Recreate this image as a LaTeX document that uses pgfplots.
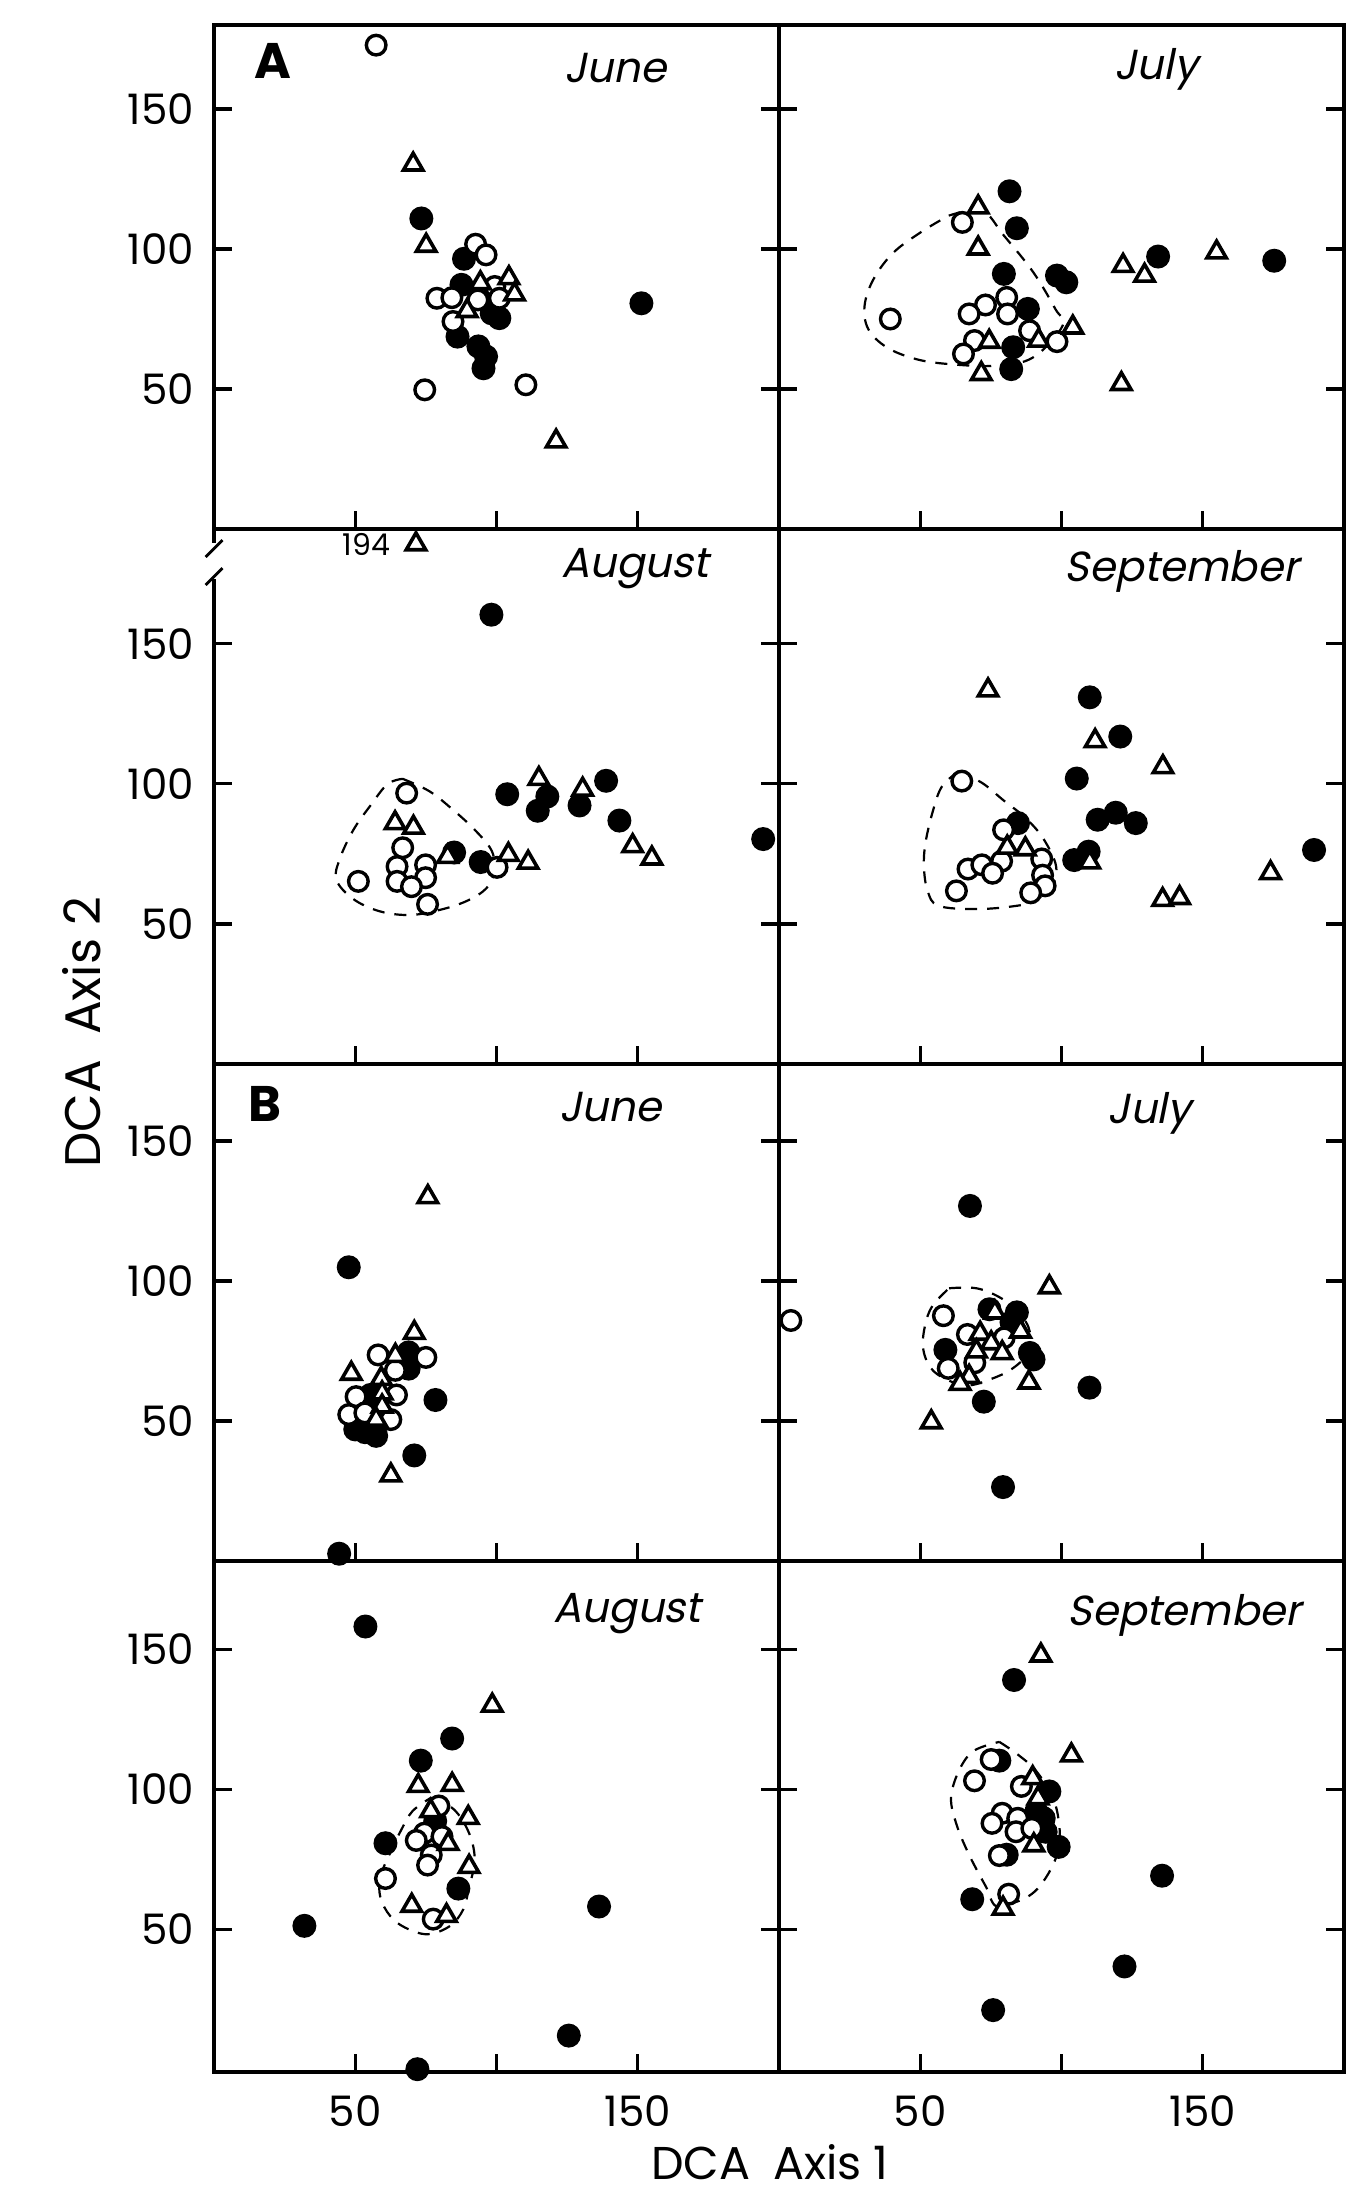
\documentclass[border=0pt]{standalone}
\usepackage{fontspec}
\setmainfont{Poppins}
\newfontfamily\slantfont[FakeSlant=0.2]{Poppins}
\usepackage{pgfplots}
\pgfplotsset{compat=1.18}
\newcommand\monthfont{\slantfont\fontsize{10.5}{12}\selectfont}
\newcommand\tickfont{\fontsize{10.5}{12}\selectfont}
\pgfplotsset{
  panel/.style={
    scale only axis, width=141.25pt, xmin=0, xmax=200,
    anchor=south west,
    axis line style={line width=0.8pt},
    xtick={50,100,150}, ytick={50,100,150},
    tick align=inside, major tick length=4.5pt,
    every tick/.style={black, line width=0.8pt},
    xtick pos=left,
    xticklabels={}, yticklabels={},
    clip=false,
    tick label style={font=\tickfont},
    yticklabel style={xshift=-1.5pt},
    xticklabel style={yshift=-2.5pt},
  },
  fc/.style={only marks, mark=*, mark size=2.8pt, mark options={fill=black, draw=black, line width=0.4pt}},
  oc/.style={only marks, mark=*, mark size=2.45pt, mark options={fill=white, draw=black, line width=0.85pt}},
  tr/.style={only marks, mark=triangle*, mark size=2.8pt, mark options={fill=white, draw=black, line width=0.9pt}},
  dl/.style={smooth, tension=0.6, no marks, black, line width=0.55pt, dash pattern=on 3pt off 2.5pt},
}
\begin{document}
\begin{tikzpicture}
\useasboundingbox (-53.5pt,-30.75pt) rectangle (283.5pt,518pt);

% ---------------- Row 1: A June ----------------
\begin{axis}[panel, at={(0pt,385.75pt)}, height=126pt, ymin=0, ymax=180, yticklabels={50,100,150}]
\addplot[fc] coordinates {(73.4,110.9) (88.5,96.5) (87.6,87.2) (98.3,77) (101,75.3) (86.2,68.7) (93.6,65.2) (96.3,61.6) (95.4,57.4) (151.3,80.6)};
\addplot[oc] coordinates {(57.4,172.8) (92.6,101.7) (96.3,97.9) (99.4,86.6) (78.9,82.4) (84.2,82.6) (93.4,81.8) (101,82.4) (84.6,74.1) (74.6,49.7) (110.4,51.5)};
\addplot[tr] coordinates {(70.5,130.2) (75.1,101.2) (104.4,89.6) (94.3,87.8) (106.4,83.8) (89.6,77.9) (121.1,31.3)};
\node[font=\bfseries\fontsize{12.5}{14}\selectfont] at (axis cs:21,167) {A};
\node[font=\monthfont] at (axis cs:142,164.5) {June};
\end{axis}

% ---------------- Row 1: A July ----------------
\begin{axis}[panel, at={(141.25pt,385.75pt)}, height=126pt, ymin=0, ymax=180]
\addplot[dl] coordinates {(60.1,111.9) (71.8,113.7) (79.6,104.8) (90,91.7) (97.8,78.6) (100.4,72.6) (90,61.3) (77,58.3) (60.1,58.9) (48.4,60.7) (38.1,64.9) (31.6,71.4) (30.3,79.8) (33.5,89.3) (40.6,98.8) (51,106.5) (60.1,111.9)};
\addplot[fc] coordinates {(81.6,120.6) (84.2,107.4) (134.2,97.3) (175.3,95.8) (79.6,91.1) (98.4,90.5) (101.7,88.1) (88.1,78.6) (82.9,64.9) (82.2,57.1)};
\addplot[oc] coordinates {(64.9,109.5) (80.6,82.7) (73.1,80.0) (67.3,76.8) (80.9,76.8) (39.4,75.0) (88.7,70.8) (98.4,66.9) (69.2,67.3) (65.3,62.5)};
\addplot[tr] coordinates {(70.5,114.9) (70.5,100.2) (154.9,98.8) (121.8,94.0) (129.4,90.5) (104,72) (91.9,67.3) (74.4,66.9) (71.6,55.4) (121.2,51.8)};
\node[font=\monthfont] at (axis cs:133.5,164.3) {July};
\end{axis}

% ---------------- Row 2: A August ----------------
\begin{axis}[panel, at={(0pt,252pt)}, height=133.75pt, ymin=0, ymax=191, yticklabels={50,100,150}]
\addplot[dl] coordinates {(66.8,101.8) (76.2,97.4) (84.3,91) (92.4,83.5) (98.4,75.9) (99.1,68.3) (96.4,62.7) (89.7,58.3) (80.3,55.1) (69.5,53.2) (58.7,54.5) (49.3,58.9) (43.3,65.8) (44.6,73.4) (49.3,83.5) (55.4,92.3) (61.4,99.9) (66.8,101.8)};
\addplot[fc] coordinates {(98.2,160.4) (103.8,96.3) (118,95.5) (114.6,90.4) (129.4,92.3) (138.8,101.1) (143.5,86.9) (194.4,80.3) (85,75.5) (94.4,72.1)};
\addplot[oc] coordinates {(68.2,96.7) (66.8,77.2) (64.8,70.5) (74.9,71.1) (64.8,65.2) (74.9,66.5) (69.9,63.3) (51.1,65.2) (75.6,57) (100.2,70.2)};
\addplot[tr] coordinates {(115,101.8) (130.5,98) (148.2,77.8) (155,73.4) (64.1,86) (70.6,84.4) (82.7,74) (104.2,74.7) (111.2,71.9) (71.5,185.6)};
\node[font=\fontsize{7.5}{9}\selectfont] at (axis cs:54,185.6) {194};
\node[font=\monthfont] at (axis cs:149,176.8) {August};
\draw[white, line width=2.5pt] (axis cs:0,173) -- (axis cs:0,186);
\draw[line width=0.7pt] (axis cs:-3,171) -- (axis cs:3,177);
\draw[line width=0.7pt] (axis cs:-3,181) -- (axis cs:3,187);
\end{axis}

% ---------------- Row 2: A September ----------------
\begin{axis}[panel, at={(141.25pt,252pt)}, height=133.75pt, ymin=0, ymax=191]
\addplot[dl] coordinates {(63.5,104.4) (71.8,100.4) (79.5,94.1) (87.2,87.9) (93.6,80.4) (98.1,70.5) (96.2,63) (89.7,58) (82.1,56.2) (69.2,55.3) (56.4,56.5) (52.6,61.8) (51.3,70.5) (51.9,79.2) (54.5,90.4) (57.7,99.1) (63.5,104.4)};
\addplot[fc] coordinates {(110,130.9) (120.8,116.9) (105.4,101.9) (112.8,87.2) (119.2,89.7) (126.3,86) (84.6,86) (104.5,72.8) (109.6,75.8) (189.4,76.4)};
\addplot[oc] coordinates {(64.7,101) (79.5,83.6) (93,73.2) (66.9,69.6) (71.8,71.1) (78.8,72.4) (75.6,68.1) (93.3,67.4) (94.2,63.6) (89.1,61.1) (62.8,61.8)};
\addplot[tr] coordinates {(74,133.4) (111.9,115.3) (135.9,106) (87.2,76.7) (80.8,77.3) (110,72) (135.8,58.6) (141.8,59.3) (174,68.2)};
\node[font=\monthfont] at (axis cs:142.6,175.7) {September};
\end{axis}

% ---------------- Row 3: B June ----------------
\begin{axis}[panel, at={(0pt,127.75pt)}, height=124.25pt, ymin=0, ymax=177.5, yticklabels={50,100,150}]
\addplot[fc] coordinates {(47.7,104.9) (68.9,74.5) (68.9,68.7) (66,71) (78.4,57.5) (55.4,59.3) (50,47) (57.4,44.7) (53.5,46) (70.9,37.7) (44.3,2.6)};
\addplot[oc] coordinates {(58.1,73.6) (75,72.7) (64.2,68.1) (50.3,58.7) (64.6,59.3) (47.7,52.3) (53.4,52.9) (62.6,50.5)};
\addplot[tr] coordinates {(75.7,130) (70.9,81.5) (64.2,73.3) (48.6,66.9) (59.2,65.1) (59.5,59.9) (59.5,55.2) (57.4,50.5) (62.6,30.6)};
\node[font=\bfseries\fontsize{12.5}{14}\selectfont] at (axis cs:18.2,163.4) {B};
\node[font=\monthfont] at (axis cs:140.3,162.2) {June};
\end{axis}

% ---------------- Row 3: B July ----------------
\begin{axis}[panel, at={(141.25pt,127.75pt)}, height=124.25pt, ymin=0, ymax=177.5]
\addplot[dl] coordinates {(60.2,97.4) (69.9,97.4) (78.4,94) (84.9,88.8) (88.8,81.8) (87.5,73.7) (82.3,68.5) (75.1,65) (66.7,62.7) (58.9,65) (53.6,69.1) (51,76) (51.7,84.1) (54.3,91.1) (60.2,97.4)};
\addplot[fc] coordinates {(67.6,126.8) (74.5,89.9) (84.2,88.8) (82.3,85.3) (58.9,75.4) (90.1,72) (88.8,74.3) (109.9,61.9) (72.5,56.9) (79.3,26.4)};
\addplot[oc] coordinates {(4.2,85.9) (58.2,87.6) (66.7,80.9) (79.7,79.7) (69.3,70.8) (59.9,68.8)};
\addplot[tr] coordinates {(95.7,97.8) (76.4,88.8) (71.2,81.2) (85.5,82) (75.1,77.8) (79,74.3) (69.9,74.9) (67.3,65.8) (64.1,63.3) (88.5,63.8) (53.9,49.6)};
\node[font=\monthfont] at (axis cs:131.1,160) {July};
\end{axis}

% ---------------- Row 4: B August ----------------
\begin{axis}[panel, at={(0pt,0pt)}, height=127.75pt, ymin=-1, ymax=181.5, yticklabels={50,100,150}, xticklabels={50,,150}]
\addplot[dl] coordinates {(76.9,97) (84.9,92.8) (90.3,84.3) (92.3,74.7) (90.3,65.1) (88.3,57.2) (83.6,51.2) (75.6,48.2) (67.6,50.6) (62.3,54.8) (58.9,61.4) (58.9,68.7) (62.3,77.1) (66.3,85.5) (70.3,92.2) (76.9,97)};
\addplot[fc] coordinates {(53.6,158.1) (84.3,118.1) (73.2,110.2) (78.3,88.6) (60.7,80.7) (86.5,64.5) (32,51.2) (136.3,58.1) (125.6,12) (72,0)};
\addplot[oc] coordinates {(79.6,94) (74.5,84.3) (80.7,83.1) (71.6,81.7) (76.9,76.5) (75.6,72.9) (60.7,68.1) (77.6,53.6)};
\addplot[tr] coordinates {(98.5,129.9) (72.3,101.2) (84.3,101.6) (76.7,92.2) (90,89.8) (82.9,80.5) (90.3,72.3) (70,58.4) (82.3,54.8)};
\node[font=\monthfont] at (axis cs:146.3,162.7) {August};
\end{axis}

% ---------------- Row 4: B September ----------------
\begin{axis}[panel, at={(141.25pt,0pt)}, height=127.75pt, ymin=-1, ymax=181.5, xticklabels={50,,150}]
\addplot[dl] coordinates {(78,116.9) (84.5,112.4) (91.1,106.4) (97,96.8) (99.2,87.2) (99,78.8) (96.3,71.6) (92.4,65.5) (88.5,61.9) (83.2,59.5) (76.7,58.3) (73.4,64.9) (70.8,69.7) (66.8,77.6) (62.9,87.2) (60.9,96.8) (63.6,106.4) (68.8,113.6) (78,116.9)};
\addplot[fc] coordinates {(83.2,139) (78,110.2) (95.7,99.2) (91.1,92) (93.7,89.6) (94.4,84.8) (80.6,76.6) (99,79.4) (135.6,69.1) (68.4,60.7) (122.3,36.7) (75.8,21.1)};
\addplot[oc] coordinates {(75.1,110.6) (69.2,103) (85.8,101) (79,91.4) (75.4,87.8) (84.5,89.6) (83.9,84.8) (89.5,86) (78,76.3) (81.3,62.5)};
\addplot[tr] coordinates {(92.7,147.8) (103.5,112.1) (89.8,104) (91.7,96.8) (90.2,80) (79.3,57.4)};
\node[font=\monthfont] at (axis cs:143.5,162.2) {September};
\end{axis}

% axis titles
\node[rotate=90, font=\fontsize{12.5}{14}\selectfont] at (-33pt,260pt) {DCA\enspace Axis 2};
\node[anchor=base, font=\fontsize{11.5}{13}\selectfont] at (139pt,-27pt) {DCA\enspace Axis 1};
\end{tikzpicture}
\end{document}
